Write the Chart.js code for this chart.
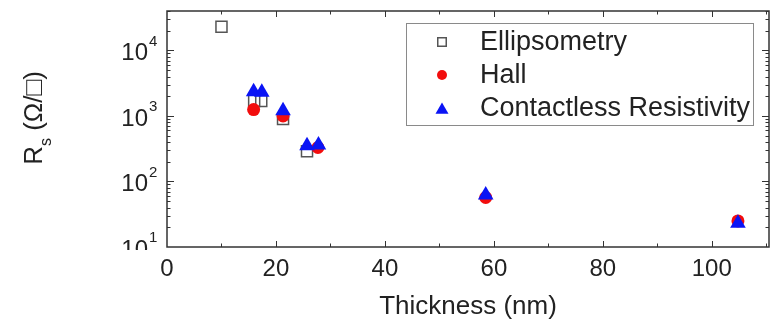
<!DOCTYPE html>
<html>
<head>
<meta charset="utf-8">
<script src="https://cdn.jsdelivr.net/npm/chart.js@4"></script>
<style>
  body { margin: 0; background: #fff; }
  canvas { display: block; }
</style>
</head>
<body>
<canvas id="rs-chart" width="771" height="324"></canvas>
<script>
// sheet resistance vs film thickness, three measurement methods
const ellipsThickness = [10, 16, 17.3, 21.3, 25.7];
const ellipsRs = [23000, 1700, 1700, 900, 290];

const hallThickness = [15.9, 21.3, 27.7, 58.5, 104.8];
const hallRs = [1250, 1000, 330, 57, 25];

const contactlessThickness = [15.9, 17.4, 21.3, 25.7, 27.8, 58.5, 104.8];
const contactlessRs = [2350, 2300, 1200, 350, 360, 62, 23];

const xTickLabels = [0, 20, 40, 60, 80, 100];
const yDecades = [1, 2, 3, 4];

const FONT = "'Liberation Sans', Arial, sans-serif";
const AXIS_COLOR = "#333";
const TEXT_COLOR = "#222";

const toPoints = (xs, ys) => xs.map((x, i) => ({ x: x, y: ys[i] }));

const datasets = [
    {
        label: "Ellipsometry",
        data: toPoints(ellipsThickness, ellipsRs),
        pointStyle: "rect",
        pointRadius: 7.8,
        borderWidth: 1.5,
        borderColor: "#555",
        backgroundColor: "rgba(0,0,0,0)",
        order: 2,
    },
    {
        label: "Hall",
        data: toPoints(hallThickness, hallRs),
        pointStyle: "circle",
        pointRadius: 6.5,
        borderWidth: 0,
        borderColor: "#f00",
        backgroundColor: "#f20d0d",
        order: 1,
    },
    {
        label: "Contactless Resistivity",
        data: toPoints(contactlessThickness, contactlessRs),
        pointStyle: "triangle",
        pointRadius: 9,
        borderWidth: 0,
        borderColor: "#00f",
        backgroundColor: "#0a14f5",
        order: 0,
    },
];

// frame with inward ticks on all four sides
const framePlugin = {
    id: "frame",
    beforeDatasetsDraw(chart) {
        const { ctx, chartArea: a, scales: { x, y } } = chart;
        ctx.save();
        ctx.strokeStyle = AXIS_COLOR;
        ctx.lineWidth = 1;
        ctx.beginPath();
        for (let v = 10; v <= 110; v += 10) {
            const px = Math.round(x.getPixelForValue(v)) + 0.5;
            const len = v % 20 === 0 ? 6 : 3.5;
            ctx.moveTo(px, a.bottom);
            ctx.lineTo(px, a.bottom - len);
            ctx.moveTo(px, a.top);
            ctx.lineTo(px, a.top + len);
        }
        for (let d = 1; d <= 4; d++) {
            for (let m = 1; m <= 9; m++) {
                const v = m * Math.pow(10, d);
                if (v <= y.min || v > y.max) continue;
                const py = Math.round(y.getPixelForValue(v)) + 0.5;
                const len = m === 1 ? 7 : 3.5;
                ctx.moveTo(a.left, py);
                ctx.lineTo(a.left + len, py);
                ctx.moveTo(a.right, py);
                ctx.lineTo(a.right - len, py);
            }
        }
        ctx.stroke();
        ctx.lineWidth = 1.5;
        ctx.strokeRect(a.left, a.top, a.right - a.left, a.bottom - a.top);
        ctx.restore();
    },
    afterDraw(chart) {
        const { ctx, chartArea: a, scales: { y } } = chart;
        ctx.save();
        ctx.fillStyle = TEXT_COLOR;

        // y tick labels: 10 with superscript exponent
        ctx.save();
        ctx.beginPath();
        ctx.rect(0, 0, a.left, a.bottom + 3);
        ctx.clip();
        yDecades.forEach((d) => {
            const py = y.getPixelForValue(Math.pow(10, d));
            ctx.textBaseline = "middle";
            ctx.textAlign = "right";
            ctx.font = "24px " + FONT;
            ctx.fillText("10", 148, py + 3);
            ctx.textAlign = "left";
            ctx.font = "15px " + FONT;
            ctx.fillText(String(d), 149, py - 9);
        });
        ctx.restore();

        // y axis title: R_s (Ω/□)
        ctx.save();
        ctx.translate(42, (a.top + a.bottom) / 2 - 11);
        ctx.rotate(-Math.PI / 2);
        ctx.textBaseline = "alphabetic";
        ctx.textAlign = "left";
        ctx.font = "26px " + FONT;
        const wR = ctx.measureText("R").width;
        const rest = " (\u03A9/\u25A1)";
        const wRest = ctx.measureText(rest).width;
        ctx.font = "16px " + FONT;
        const wS = ctx.measureText("s").width;
        let tx = -(wR + wS + wRest) / 2;
        ctx.font = "26px " + FONT;
        ctx.fillText("R", tx, 0);
        ctx.font = "16px " + FONT;
        ctx.fillText("s", tx + wR, 9);
        ctx.font = "26px " + FONT;
        ctx.fillText(rest, tx + wR + wS, 0);
        ctx.restore();

        // legend box
        const boxRight = a.right - 16;
        const boxTop = a.top + 12;
        const boxW = 347;
        const boxH = 102;
        const boxLeft = boxRight - boxW;
        ctx.strokeStyle = "#8a8a8a";
        ctx.lineWidth = 1;
        ctx.strokeRect(boxLeft + 0.5, boxTop + 0.5, boxW, boxH);

        const legendSizes = [6, 5, 7.5];
        chart.data.datasets.forEach((ds, i) => {
            const rowY = boxTop + 19 + i * 33;
            ctx.fillStyle = ds.backgroundColor;
            ctx.strokeStyle = ds.borderColor;
            ctx.lineWidth = ds.borderWidth;
            Chart.helpers.drawPoint(ctx, {
                pointStyle: ds.pointStyle,
                radius: legendSizes[i],
                rotation: 0,
                borderWidth: ds.borderWidth,
            }, boxLeft + 36, ds.pointStyle === "triangle" ? rowY + 2 : rowY);
            ctx.fillStyle = TEXT_COLOR;
            ctx.font = "27px " + FONT;
            ctx.textAlign = "left";
            ctx.textBaseline = "middle";
            ctx.fillText(ds.label, boxLeft + 74, rowY + 1);
        });
        ctx.restore();
    },
};

const rsContext = document.getElementById("rs-chart");

const rsChart = new Chart(rsContext, {
    type: "scatter",
    data: { datasets: datasets },
    options: {
        responsive: false,
        animation: false,
        devicePixelRatio: 1,
        layout: {
            autoPadding: false,
            padding: { top: 11, right: 2, left: 0, bottom: 0 },
        },
        plugins: {
            legend: { display: false },
            tooltip: { enabled: false },
        },
        scales: {
            x: {
                type: "linear",
                min: 0,
                max: 110.5,
                afterBuildTicks: (scale) => {
                    scale.ticks = xTickLabels.map((v) => ({ value: v }));
                },
                afterFit: (scale) => {
                    scale.height = 77;
                    scale.paddingLeft = 0;
                    scale.paddingRight = 0;
                },
                grid: { display: false, drawTicks: false },
                border: { display: false },
                ticks: {
                    autoSkip: false,
                    maxRotation: 0,
                    padding: 8,
                    color: TEXT_COLOR,
                    font: { family: FONT, size: 24 },
                },
                title: {
                    display: true,
                    text: "Thickness (nm)",
                    color: TEXT_COLOR,
                    font: { family: FONT, size: 26 },
                    padding: { top: 0, bottom: 2 },
                },
            },
            y: {
                type: "logarithmic",
                min: 10,
                max: 40000,
                afterFit: (scale) => {
                    scale.width = 167;
                },
                grid: { display: false, drawTicks: false },
                border: { display: false },
                ticks: { display: false },
            },
        },
    },
    plugins: [framePlugin],
});
</script>
</body>
</html>
